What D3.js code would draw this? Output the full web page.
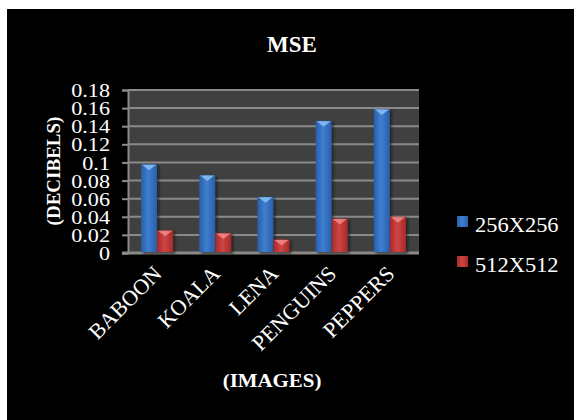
<!DOCTYPE html>
<html>
<head>
<meta charset="utf-8">
<script src="https://cdn.jsdelivr.net/npm/d3@7"></script>
<style>
  html, body { margin: 0; padding: 0; background: #fff; }
  svg { display: block; }
  text { font-family: "Liberation Serif", "Times New Roman", serif; fill: #fff; }
</style>
</head>
<body>
<script>
// MSE per test image, for two image resolutions
const categories = ["BABOON", "KOALA", "LENA", "PENGUINS", "PEPPERS"];
const seriesNames = ["256X256", "512X512"];
const values256 = [0.098, 0.086, 0.062, 0.146, 0.159];
const values512 = [0.025, 0.022, 0.015, 0.038, 0.040];
const yTicks = [0, 0.02, 0.04, 0.06, 0.08, 0.1, 0.12, 0.14, 0.16, 0.18];
const yTickLabels = ["0", "0.02", "0.04", "0.06", "0.08", "0.1", "0.12", "0.14", "0.16", "0.18"];

const W = 574, H = 420;
const plot = { left: 128, right: 419, top: 90, bottom: 253 };
const SX = 1.2; // horizontal stretch for the serif lettering

const svg = d3.select("body").append("svg").attr("width", W).attr("height", H);

// gradients for the bevelled bars
const defs = svg.append("defs");
function barGradient(id, edge, mid) {
  const g = defs.append("linearGradient").attr("id", id).attr("x1", 0).attr("x2", 1).attr("y1", 0).attr("y2", 0);
  g.append("stop").attr("offset", "0%").attr("stop-color", edge);
  g.append("stop").attr("offset", "45%").attr("stop-color", mid);
  g.append("stop").attr("offset", "100%").attr("stop-color", edge);
}
barGradient("gBlue", "#2a5ea8", "#3e7fd0");
barGradient("gRed", "#a52a2a", "#d04545");
const blur = defs.append("filter").attr("id", "shadow").attr("x", "-30%").attr("y", "-10%").attr("width", "160%").attr("height", "130%");
blur.append("feGaussianBlur").attr("stdDeviation", 1.2);

// background frame
svg.append("rect").attr("x", 7).attr("y", 9).attr("width", W - 7).attr("height", H - 9).attr("fill", "#000");

// plot area
svg.append("rect")
  .attr("x", plot.left).attr("y", plot.top)
  .attr("width", plot.right - plot.left).attr("height", plot.bottom - plot.top)
  .attr("fill", "#404040");

const x0 = d3.scaleBand().domain(categories).range([plot.left, plot.right]).paddingInner(0).paddingOuter(0);
const x1 = d3.scaleBand().domain(seriesNames).range([0, x0.bandwidth()]).paddingInner(0).paddingOuter(0.81);
const y = d3.scaleLinear().domain([0, 0.18]).range([plot.bottom, plot.top]);

// gridlines
svg.append("g").selectAll("line").data(yTicks.slice(1)).join("line")
  .attr("x1", plot.left).attr("x2", plot.right)
  .attr("y1", d => y(d)).attr("y2", d => y(d))
  .attr("stroke", "#8a8a8a").attr("stroke-width", 2);

// y axis with tick labels
const yAxis = d3.axisLeft(y).tickValues(yTicks).tickFormat((d, i) => yTickLabels[i]).tickSize(6).tickPadding(0);
const gy = svg.append("g").attr("transform", `translate(${plot.left},0)`).call(yAxis);
gy.select(".domain").attr("stroke", "#8a8a8a").attr("stroke-width", 2);
gy.selectAll(".tick line").attr("stroke", "#8a8a8a").attr("stroke-width", 2);
gy.selectAll(".tick text")
  .attr("fill", "#fff").attr("font-size", 18.5)
  .attr("font-family", "Liberation Serif, serif")
  .attr("x", -18 / SX)
  .attr("dy", "0.36em")
  .attr("transform", `scale(${SX},1)`);

// x axis baseline
svg.append("line")
  .attr("x1", plot.left - 6).attr("x2", plot.right)
  .attr("y1", plot.bottom).attr("y2", plot.bottom)
  .attr("stroke", "#8a8a8a").attr("stroke-width", 3);

// bars
const rows = categories.map((c, i) => ({ c, vals: [values256[i], values512[i]] }));
const groups = svg.append("g").selectAll("g").data(rows).join("g")
  .attr("transform", d => `translate(${x0(d.c)},0)`);

const bw = x1.bandwidth();
const bars = groups.selectAll("g.bar").data(d => d.vals.map((v, k) => ({ v, s: seriesNames[k], k }))).join("g").attr("class", "bar");

bars.append("rect")
  .attr("x", d => x1(d.s) + 2).attr("y", d => y(d.v) + 1)
  .attr("width", bw).attr("height", d => plot.bottom - y(d.v))
  .attr("fill", "#111").attr("opacity", 0.55).attr("filter", "url(#shadow)");
bars.append("rect")
  .attr("x", d => x1(d.s)).attr("y", d => y(d.v))
  .attr("width", bw).attr("height", d => plot.bottom - 1 - y(d.v))
  .attr("fill", d => d.k === 0 ? "url(#gBlue)" : "url(#gRed)");
// bevel cap on top of each bar
bars.append("path")
  .attr("d", d => {
    const xa = x1(d.s), yt = y(d.v);
    return `M${xa + 1},${yt + 0.5} L${xa + bw - 1},${yt + 0.5} L${xa + bw / 2},${yt + 6} Z`;
  })
  .attr("fill", d => d.k === 0 ? "#8cc0f5" : "#f08a8a").attr("opacity", 0.85);

// category labels, rotated
svg.append("g").selectAll("text").data(categories).join("text")
  .attr("transform", d => `translate(${x0(d) + x0.bandwidth() / 2 + 6},${plot.bottom + 22}) rotate(-45)`)
  .attr("text-anchor", "end")
  .attr("font-size", 22)
  .text(d => d);

// titles
svg.append("text")
  .attr("x", 292).attr("y", 52)
  .attr("text-anchor", "middle").attr("font-weight", "bold").attr("font-size", 23)
  .text("MSE");

svg.append("text")
  .attr("transform", `translate(60,171) rotate(-90)`)
  .attr("text-anchor", "middle").attr("font-weight", "bold").attr("font-size", 19)
  .text("(DECIBELS)");

svg.append("text")
  .attr("transform", `translate(272,387) scale(1.1,1)`)
  .attr("text-anchor", "middle").attr("font-weight", "bold").attr("font-size", 19)
  .text("(IMAGES)");

// legend
const legend = svg.append("g").selectAll("g").data(seriesNames).join("g")
  .attr("transform", (d, i) => `translate(457,${216 + i * 40})`);
legend.append("rect")
  .attr("width", 11).attr("height", 11)
  .attr("fill", (d, i) => i === 0 ? "url(#gBlue)" : "url(#gRed)");
legend.append("text")
  .attr("transform", "translate(18,16) scale(1.07,1)")
  .attr("font-size", 21)
  .text(d => d);
</script>
</body>
</html>
